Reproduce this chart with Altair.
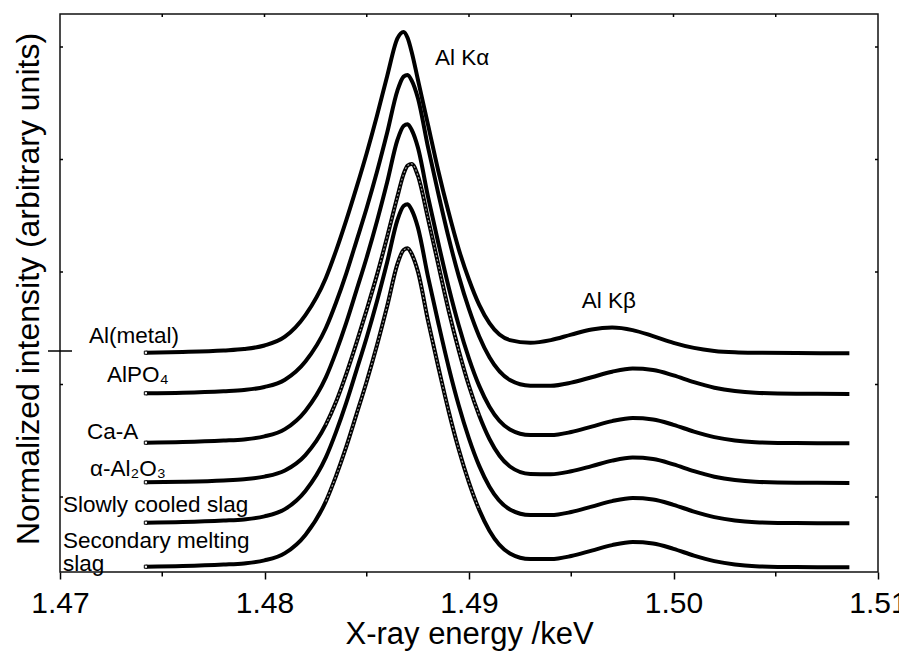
import altair as alt
import pandas as pd

# X-ray energy grid (keV) shared by all spectra
energy = [1.4742, 1.476, 1.478, 1.479, 1.480, 1.481, 1.482, 1.483, 1.4835, 1.484,
          1.4845, 1.485, 1.4855, 1.486, 1.4865, 1.4868, 1.487, 1.4872, 1.4875, 1.488,
          1.4885, 1.489, 1.4895, 1.490, 1.4905, 1.491, 1.492, 1.493, 1.494, 1.495,
          1.496, 1.497, 1.498, 1.499, 1.500, 1.501, 1.502, 1.503, 1.504, 1.506, 1.5086]

al_metal = [2.193, 2.201, 2.216, 2.230, 2.265, 2.353, 2.569, 2.941, 3.214, 3.519,
            3.846, 4.190, 4.562, 4.960, 5.336, 5.401, 5.340, 5.198, 4.925, 4.469,
            4.010, 3.599, 3.227, 2.922, 2.671, 2.488, 2.319, 2.293, 2.319, 2.374,
            2.425, 2.444, 2.419, 2.359, 2.292, 2.241, 2.211, 2.197, 2.192, 2.189, 2.187]

alpo4 = [1.787, 1.793, 1.808, 1.820, 1.850, 1.923, 2.105, 2.440, 2.695, 2.987,
         3.312, 3.642, 4.002, 4.394, 4.814, 4.954, 4.971, 4.914, 4.740, 4.243,
         3.784, 3.347, 2.959, 2.628, 2.355, 2.147, 1.920, 1.863, 1.863, 1.894,
         1.948, 2.003, 2.034, 2.020, 1.966, 1.898, 1.843, 1.809, 1.792, 1.783, 1.781]

ca_a = [1.293, 1.299, 1.314, 1.326, 1.356, 1.429, 1.611, 1.946, 2.201, 2.493,
        2.818, 3.148, 3.508, 3.900, 4.320, 4.460, 4.477, 4.420, 4.246, 3.749,
        3.290, 2.853, 2.465, 2.134, 1.861, 1.653, 1.426, 1.369, 1.369, 1.400,
        1.454, 1.509, 1.540, 1.526, 1.472, 1.404, 1.349, 1.315, 1.298, 1.289, 1.287]

alpha_al2o3 = [0.897, 0.903, 0.916, 0.928, 0.954, 1.015, 1.169, 1.473, 1.702, 1.981,
               2.293, 2.624, 2.971, 3.353, 3.754, 3.979, 4.065, 4.081, 3.963, 3.529,
               3.073, 2.618, 2.216, 1.860, 1.565, 1.330, 1.055, 0.980, 0.977, 1.007,
               1.059, 1.114, 1.144, 1.130, 1.076, 1.008, 0.953, 0.919, 0.902, 0.893, 0.891]

slowly = [0.493, 0.499, 0.514, 0.526, 0.556, 0.629, 0.811, 1.146, 1.401, 1.693,
          2.018, 2.348, 2.708, 3.100, 3.520, 3.660, 3.677, 3.620, 3.446, 2.949,
          2.490, 2.053, 1.665, 1.334, 1.061, 0.853, 0.626, 0.569, 0.569, 0.600,
          0.654, 0.709, 0.740, 0.726, 0.672, 0.604, 0.549, 0.515, 0.498, 0.489, 0.487]

secondary = [0.053, 0.059, 0.074, 0.086, 0.116, 0.189, 0.371, 0.706, 0.961, 1.253,
             1.578, 1.908, 2.268, 2.660, 3.080, 3.220, 3.237, 3.180, 3.006, 2.509,
             2.050, 1.613, 1.225, 0.894, 0.621, 0.413, 0.186, 0.129, 0.129, 0.160,
             0.214, 0.269, 0.300, 0.286, 0.232, 0.164, 0.109, 0.075, 0.058, 0.049, 0.047]

sample_names = ["Al(metal)", "AlPO4", "Ca-A", "alpha-Al2O3", "Slowly cooled slag",
                "Secondary melting slag"]
series = [al_metal, alpo4, ca_a, alpha_al2o3, slowly, secondary]
# spectra drawn with dense open markers in the reference (hollow look on steep flanks)
marker_samples = ["alpha-Al2O3", "Secondary melting slag"]
marker_range = [1.4825, 1.4905]

# annotation texts and their anchor positions (energy, intensity)
label_text = ["Al(metal)", "AlPO\u2084", "Ca-A", "\u03b1-Al\u2082O\u2083",
              "Slowly cooled slag", "Secondary melting", "slag", "Al K\u03b1", "Al K\u03b2"]
label_energy = [1.47142, 1.4723, 1.47132, 1.47147, 1.47015, 1.47015, 1.47015, 1.48834, 1.49551]
label_intensity = [2.36, 1.97, 1.40, 1.03, 0.67, 0.315, 0.085, 5.14, 2.71]

major_ticks = [1.47, 1.48, 1.49, 1.50, 1.51]
minor_ticks = [1.475, 1.485, 1.495, 1.505]
top_ticks = [1.475, 1.48, 1.485, 1.49, 1.495, 1.50, 1.505]
side_ticks = [0.75, 1.875, 3.0, 4.125, 5.25]
marker_level = [2.21]

rows = []
for name, vals in zip(sample_names, series):
    for e, v in zip(energy, vals):
        rows.append({"sample": name, "energy": e, "intensity": v})
df = pd.DataFrame(rows)
starts = df.groupby("sample", as_index=False).first()
hollow = df[df["sample"].isin(marker_samples)
            & (df["energy"] >= marker_range[0]) & (df["energy"] <= marker_range[1])]

labels_df = pd.DataFrame({"label": label_text, "energy": label_energy,
                          "intensity": label_intensity})

W, H = 818, 558
FONT = "Liberation Sans"
xs = alt.Scale(domain=[1.47, 1.51], nice=False, zero=False)
ys = alt.Scale(domain=[0, 5.58], nice=False, zero=False)

x_axis = alt.Axis(values=major_ticks, format=".2f", labelFontSize=30, tickSize=7,
                  tickWidth=1.5, tickColor="black", domain=False, grid=False,
                  labelPadding=9, labelFlush=False, labelOverlap=False,
                  labelColor="black", titleFontSize=31, titlePadding=1,
                  titleColor="black", titleFontWeight="normal",
                  labelFont=FONT, titleFont=FONT)
y_axis = alt.Axis(labels=False, ticks=False, domain=False, grid=False,
                  titleFontSize=32, titlePadding=15, titleColor="black",
                  titleFontWeight="normal", titleFont=FONT, titleY=H / 2 - 4.5)
X_TITLE = "X-ray energy /keV"
Y_TITLE = "Normalized intensity (arbitrary units)"


def xenc():
    return alt.X("energy:Q", scale=xs, title=X_TITLE, axis=x_axis)


def yenc():
    return alt.Y("intensity:Q", scale=ys, title=Y_TITLE, axis=y_axis)


lines = alt.Chart(df).mark_line(color="black", strokeWidth=4, interpolate="monotone").encode(
    x=xenc(), y=yenc(), detail="sample:N",
)

hollow_lines = alt.Chart(hollow).mark_line(color="#a0a0a0", strokeWidth=1.2,
                                           strokeDash=[2, 2], interpolate="monotone").encode(
    x=xenc(), y=yenc(), detail="sample:N",
)

start_pts = alt.Chart(starts).mark_point(shape="square", size=10, filled=True, fill="white",
                                         stroke="black", strokeWidth=1, opacity=1).encode(
    x=xenc(), y=yenc(),
)

texts = alt.Chart(labels_df).mark_text(align="left", baseline="middle", fontSize=22.5,
                                       font=FONT, color="black").encode(
    x=xenc(), y=yenc(), text="label:N",
)

minor_df = pd.DataFrame({"energy": minor_ticks})
top_df = pd.DataFrame({"energy": top_ticks})
side_df = pd.DataFrame({"intensity": side_ticks})
mark_df = pd.DataFrame({"intensity": marker_level})

rule_style = dict(color="black", strokeWidth=1.5)
minor_rules = alt.Chart(minor_df).mark_rule(**rule_style).encode(
    x=xenc(), y=alt.value(H), y2=alt.value(H + 4.5))
top_rules = alt.Chart(top_df).mark_rule(**rule_style).encode(
    x=xenc(), y=alt.value(0), y2=alt.value(3))
left_rules = alt.Chart(side_df).mark_rule(**rule_style).encode(
    y=yenc(), x=alt.value(0), x2=alt.value(3))
right_rules = alt.Chart(side_df).mark_rule(**rule_style).encode(
    y=yenc(), x=alt.value(W), x2=alt.value(W - 3))
cross_rule = alt.Chart(mark_df).mark_rule(**rule_style).encode(
    y=yenc(), x=alt.value(-12), x2=alt.value(12))

chart = alt.layer(
    lines, hollow_lines, start_pts, texts, minor_rules, top_rules, left_rules,
    right_rules, cross_rule
).properties(
    width=W, height=H,
    autosize=alt.AutoSizeParams(type="none"),
    padding={"left": 52, "top": 6, "right": 21, "bottom": 82},
    background="white",
).configure_view(stroke="#111", strokeWidth=1.5)

chart.save("out.html", embed_options={"renderer": "svg", "actions": False})
